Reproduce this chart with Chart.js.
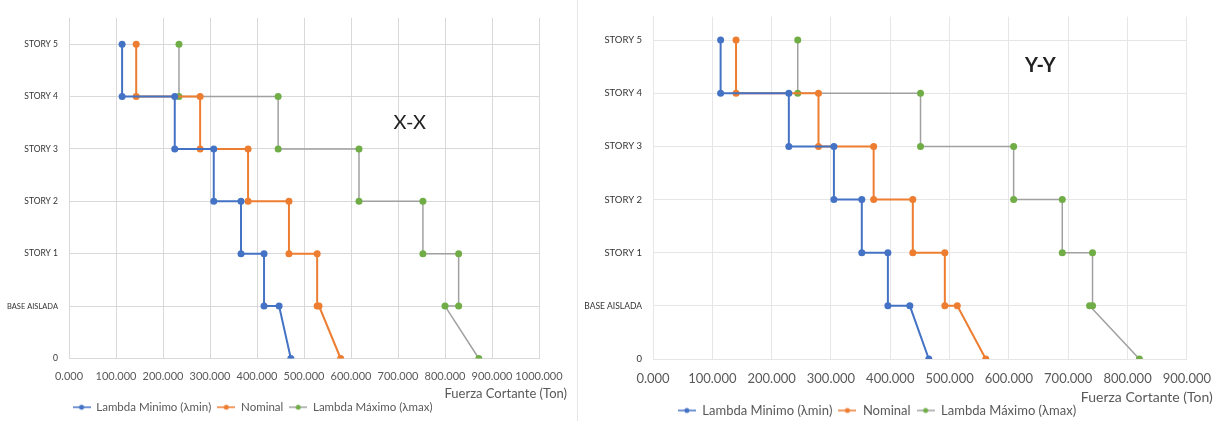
<!DOCTYPE html>
<html>
<head>
<meta charset="utf-8">
<script src="https://cdn.jsdelivr.net/npm/chart.js@4/dist/chart.umd.min.js"></script>
<style>
  body { margin: 0; background: #fff; }
  #wrap { position: relative; width: 1222px; height: 421px; }
  #left { position: absolute; left: 0; top: 0; width: 575px; height: 421px; }
  #right { position: absolute; left: 577px; top: 0; width: 645px; height: 421px; border-left: 1px solid #e6e6e6; }
</style>
</head>
<body>
<div id="wrap">
  <div id="left"><canvas id="chartX" width="575" height="421"></canvas></div>
  <div id="right"><canvas id="chartY" width="645" height="421"></canvas></div>
</div>
<script>
// story levels for every point (step profile, top to bottom)
const levels = [6, 5, 5, 4, 4, 3, 3, 2, 2, 1, 1, 0];
const storyLabels = ['0', 'BASE AISLADA', 'STORY 1', 'STORY 2', 'STORY 3', 'STORY 4', 'STORY 5'];
const seriesNames = ['Lambda Minimo (\u03bbmin)', 'Nominal', 'Lambda M\u00e1ximo (\u03bbmax)'];

// X-X shear (Ton)
const xxMin = [113, 113, 225, 225, 308, 308, 366, 366, 415, 415, 447, 472];
const xxNominal = [143, 143, 279, 279, 381, 381, 468, 468, 528, 528, 532, 578];
const xxMax = [234, 234, 445, 445, 617, 617, 753, 753, 829, 829, 800, 872];

// Y-Y shear (Ton)
const yyMin = [114, 114, 229, 229, 305, 305, 352, 352, 396, 396, 433, 465];
const yyNominal = [140, 140, 279, 279, 372, 372, 438, 438, 492, 492, 513, 561];
const yyMax = [244, 244, 451, 451, 608, 608, 690, 690, 741, 741, 736, 820];

Chart.defaults.font.family = "Lato, 'Open Sans', sans-serif";

const lineColors = ['#4472C4', '#ED7D31', '#A0A0A0'];
const dotColors = ['#4472C4', '#ED7D31', '#70AD47'];

function legendIcon(i) {
    const c = document.createElement('canvas');
    c.width = 18;
    c.height = 8;
    const g = c.getContext('2d');
    g.strokeStyle = lineColors[i];
    g.lineWidth = 1.5;
    g.beginPath();
    g.moveTo(0, 4);
    g.lineTo(18, 4);
    g.stroke();
    g.fillStyle = dotColors[i];
    g.beginPath();
    g.arc(9, 4, 2.5, 0, Math.PI * 2);
    g.fill();
    return c;
}
const icons = [0, 1, 2].map(legendIcon);

const toPoints = xs => xs.map((x, i) => ({x: x, y: levels[i]}));

// panel label + axis title, plus a nudge for the legend
const extras = {
    id: 'extras',
    afterLayout(chart, args, opts) {
        chart.legend.left += opts.legendDx;
        chart.legend.right += opts.legendDx;
    },
    afterDraw(chart, args, opts) {
        const ctx = chart.ctx;
        const area = chart.chartArea;
        ctx.save();
        ctx.fillStyle = '#222';
        ctx.font = opts.panelFont;
        ctx.textAlign = 'center';
        ctx.textBaseline = 'middle';
        ctx.fillText(opts.panel, chart.scales.x.getPixelForValue(opts.panelX), chart.scales.y.getPixelForValue(opts.panelY));
        ctx.fillStyle = '#595959';
        ctx.font = opts.axisFont;
        ctx.textAlign = 'right';
        ctx.fillText('Fuerza Cortante (Ton)', area.right + opts.axisDx, area.bottom + opts.axisDy);
        ctx.restore();
    }
};

function makeChart(id, data, o) {
    return new Chart(document.getElementById(id), {
        type: 'scatter',
        data: {
            datasets: data.map((xs, i) => ({
                label: seriesNames[i],
                data: toPoints(xs),
                showLine: true,
                borderColor: lineColors[i],
                backgroundColor: dotColors[i],
                pointBackgroundColor: dotColors[i],
                pointBorderWidth: 0,
                borderWidth: i === 2 ? 1.5 : 2,
                pointRadius: 3.5,
                tension: 0
            }))
        },
        options: {
            responsive: false,
            animation: false,
            layout: {padding: {top: o.top, right: o.right, left: 0, bottom: o.bottom}},
            scales: {
                x: {
                    min: 0,
                    max: o.xMax,
                    ticks: {
                        stepSize: 100,
                        autoSkip: false,
                        maxRotation: 0,
                        padding: o.tickPad,
                        color: '#595959',
                        font: {size: o.xFont},
                        callback: v => v.toFixed(3)
                    },
                    grid: {color: o.grid, drawTicks: false},
                    border: {color: o.grid},
                    afterFit: s => { s.height = o.xHeight; }
                },
                y: {
                    min: 0,
                    max: o.yMax,
                    afterBuildTicks: s => { s.ticks = storyLabels.map((t, v) => ({value: v})); },
                    ticks: {
                        padding: o.yPad,
                        color: '#333',
                        font: c => ({size: c.tick && c.tick.value === 1 ? o.baseFont : o.yFont}),
                        callback: v => storyLabels[v]
                    },
                    grid: {color: o.grid, drawTicks: false},
                    border: {color: o.grid},
                    afterFit: s => { s.width = o.yWidth; }
                }
            },
            plugins: {
                legend: {
                    position: 'bottom',
                    labels: {
                        usePointStyle: true,
                        pointStyleWidth: 18,
                        padding: 6,
                        color: '#595959',
                        font: {size: o.legendFont},
                        generateLabels(chart) {
                            const items = Chart.defaults.plugins.legend.labels.generateLabels(chart);
                            items.forEach((it, i) => { it.pointStyle = icons[i]; });
                            return items;
                        }
                    }
                },
                tooltip: {enabled: false},
                extras: o.extras
            }
        },
        plugins: [extras]
    });
}

makeChart('chartX', [xxMin, xxNominal, xxMax], {
    top: 18, right: 36, bottom: -2, xMax: 1000, yMax: 6.5,
    xHeight: 37, yWidth: 69, yPad: 11, tickPad: 11, xFont: 11, yFont: 8.5, baseFont: 7.5, legendFont: 11.5,
    grid: '#d9d9d9',
    extras: {panel: 'X-X', panelX: 725, panelY: 4.5, panelFont: '20px Lato, sans-serif',
             axisFont: '13px Lato, sans-serif', axisDx: 28, axisDy: 35, legendDx: -17}
});

makeChart('chartY', [yyMin, yyNominal, yyMax], {
    top: 5, right: 35, bottom: -6, xMax: 900, yMax: 6.44,
    xHeight: 39, yWidth: 75, yPad: 11, tickPad: 12, xFont: 13, yFont: 9.5, baseFont: 8.5, legendFont: 13,
    grid: '#e6e6e6',
    extras: {panel: 'Y-Y', panelX: 653, panelY: 5.53, panelFont: 'bold 20px Lato, sans-serif',
             axisFont: '14px Lato, sans-serif', axisDx: 26, axisDy: 38, legendDx: -6}
});
</script>
</body>
</html>
